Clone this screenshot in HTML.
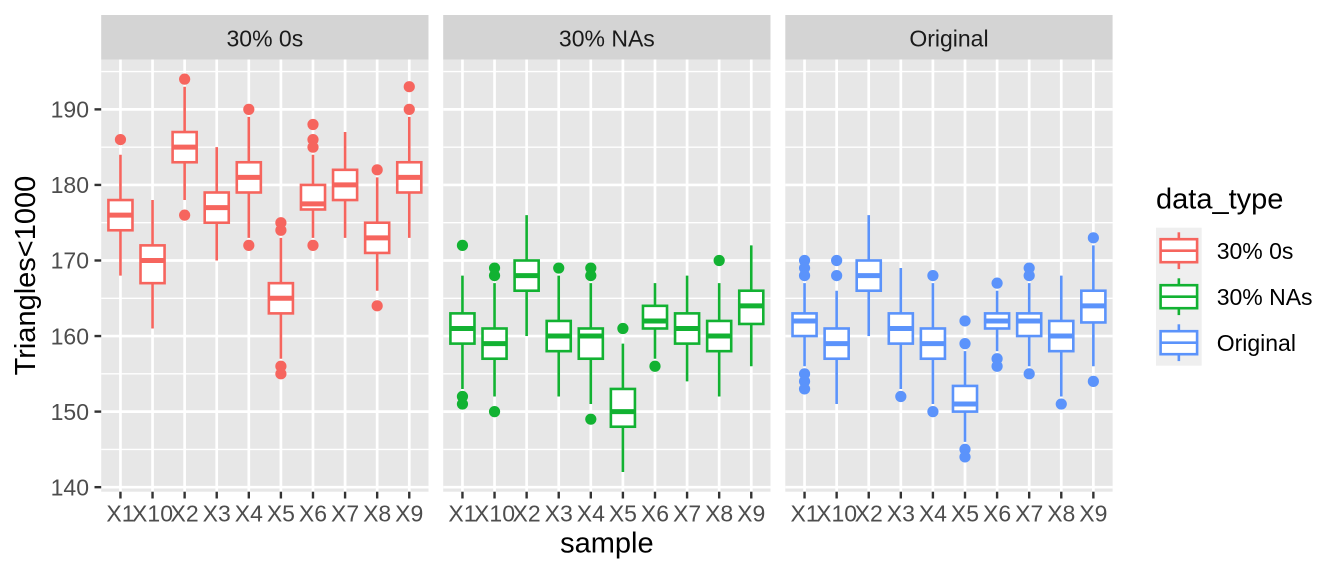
<!DOCTYPE html>
<html><head><meta charset="utf-8"><style>
html,body{margin:0;padding:0;background:#fff;}
svg{display:block;font-family:"Liberation Sans",Arial,sans-serif;}
</style></head><body>
<svg width="1344" height="576" viewBox="0 0 1344 576" xmlns="http://www.w3.org/2000/svg">
<rect width="1344" height="576" fill="#fff"/>
<defs>
<g id="grid">
<rect x="0" y="59.5" width="327.3" height="432.2" fill="#E7E7E7"/>
<g stroke="#fff" stroke-width="1.4">
<line x1="0" x2="327.3" y1="449.39" y2="449.39"/><line x1="0" x2="327.3" y1="373.83" y2="373.83"/>
<line x1="0" x2="327.3" y1="298.27" y2="298.27"/><line x1="0" x2="327.3" y1="222.71" y2="222.71"/>
<line x1="0" x2="327.3" y1="147.15" y2="147.15"/><line x1="0" x2="327.3" y1="71.59" y2="71.59"/>
</g>
<g stroke="#fff" stroke-width="2.7">
<line x1="0" x2="327.3" y1="487.17" y2="487.17"/><line x1="0" x2="327.3" y1="411.61" y2="411.61"/>
<line x1="0" x2="327.3" y1="336.05" y2="336.05"/><line x1="0" x2="327.3" y1="260.49" y2="260.49"/>
<line x1="0" x2="327.3" y1="184.93" y2="184.93"/><line x1="0" x2="327.3" y1="109.37" y2="109.37"/>
<line x1="19.25" x2="19.25" y1="59.5" y2="491.7"/><line x1="51.34" x2="51.34" y1="59.5" y2="491.7"/>
<line x1="83.43" x2="83.43" y1="59.5" y2="491.7"/><line x1="115.52" x2="115.52" y1="59.5" y2="491.7"/>
<line x1="147.61" x2="147.61" y1="59.5" y2="491.7"/><line x1="179.7" x2="179.7" y1="59.5" y2="491.7"/>
<line x1="211.79" x2="211.79" y1="59.5" y2="491.7"/><line x1="243.88" x2="243.88" y1="59.5" y2="491.7"/>
<line x1="275.97" x2="275.97" y1="59.5" y2="491.7"/><line x1="308.06" x2="308.06" y1="59.5" y2="491.7"/>
</g>
<g stroke="#333" stroke-width="2.4">
<line x1="19.25" x2="19.25" y1="491.7" y2="498.5"/><line x1="51.34" x2="51.34" y1="491.7" y2="498.5"/>
<line x1="83.43" x2="83.43" y1="491.7" y2="498.5"/><line x1="115.52" x2="115.52" y1="491.7" y2="498.5"/>
<line x1="147.61" x2="147.61" y1="491.7" y2="498.5"/><line x1="179.7" x2="179.7" y1="491.7" y2="498.5"/>
<line x1="211.79" x2="211.79" y1="491.7" y2="498.5"/><line x1="243.88" x2="243.88" y1="491.7" y2="498.5"/>
<line x1="275.97" x2="275.97" y1="491.7" y2="498.5"/><line x1="308.06" x2="308.06" y1="491.7" y2="498.5"/>
</g>
<rect x="0" y="15" width="327.3" height="44.5" fill="#D4D4D4"/>
<g font-size="23" fill="#4D4D4D" text-anchor="middle">
<text x="19.25" y="521.7">X1</text><text x="51.34" y="521.7">X10</text><text x="83.43" y="521.7">X2</text>
<text x="115.52" y="521.7">X3</text><text x="147.61" y="521.7">X4</text><text x="179.7" y="521.7">X5</text>
<text x="211.79" y="521.7">X6</text><text x="243.88" y="521.7">X7</text><text x="275.97" y="521.7">X8</text>
<text x="308.06" y="521.7">X9</text>
</g>
</g>
</defs>

<use href="#grid" x="101.2" y="0"/>
<use href="#grid" x="443.2" y="0"/>
<use href="#grid" x="785.3" y="0"/>

<g font-size="23" fill="#1A1A1A" text-anchor="middle">
<text x="264.85" y="46.5">30% 0s</text>
<text x="606.85" y="46.5">30% NAs</text>
<text x="948.95" y="46.5">Original</text>
</g>

<!-- y axis -->
<g stroke="#333" stroke-width="2.4">
<line x1="94.5" x2="101.2" y1="487.17" y2="487.17"/><line x1="94.5" x2="101.2" y1="411.61" y2="411.61"/>
<line x1="94.5" x2="101.2" y1="336.05" y2="336.05"/><line x1="94.5" x2="101.2" y1="260.49" y2="260.49"/>
<line x1="94.5" x2="101.2" y1="184.93" y2="184.93"/><line x1="94.5" x2="101.2" y1="109.37" y2="109.37"/>
</g>
<g font-size="23" fill="#4D4D4D" text-anchor="end">
<text x="89" y="495.4">140</text><text x="89" y="419.8">150</text><text x="89" y="344.3">160</text>
<text x="89" y="268.7">170</text><text x="89" y="193.1">180</text><text x="89" y="117.6">190</text>
</g>
<text x="606.9" y="552.7" font-size="29" fill="#000" text-anchor="middle">sample</text>
<text transform="translate(35,275.6) rotate(-90)" font-size="29" fill="#000" text-anchor="middle">Triangles&lt;1000</text>

<!-- Panel 1 red -->
<g stroke="#F6655E" stroke-width="2.6" fill="#fff">
<line x1="120.45" x2="120.45" y1="275.60" y2="154.71"/><rect x="108.42" y="200.04" width="24.06" height="30.23"/><line x1="108.42" x2="132.48" y1="215.15" y2="215.15" stroke-width="5"/>
<line x1="152.54" x2="152.54" y1="328.49" y2="200.04"/><rect x="140.51" y="245.38" width="24.06" height="37.78"/><line x1="140.51" x2="164.57" y1="260.49" y2="260.49" stroke-width="5"/>
<line x1="184.63" x2="184.63" y1="200.04" y2="86.70"/><rect x="172.6" y="132.04" width="24.06" height="30.22"/><line x1="172.6" x2="196.66" y1="147.15" y2="147.15" stroke-width="5"/>
<line x1="216.72" x2="216.72" y1="260.49" y2="147.15"/><rect x="204.69" y="192.49" width="24.06" height="30.22"/><line x1="204.69" x2="228.75" y1="207.60" y2="207.60" stroke-width="5"/>
<line x1="248.81" x2="248.81" y1="237.82" y2="116.93"/><rect x="236.78" y="162.26" width="24.06" height="30.23"/><line x1="236.78" x2="260.84" y1="177.37" y2="177.37" stroke-width="5"/>
<line x1="280.9" x2="280.9" y1="358.72" y2="237.82"/><rect x="268.87" y="283.16" width="24.06" height="30.22"/><line x1="268.87" x2="292.93" y1="298.27" y2="298.27" stroke-width="5"/>
<line x1="312.99" x2="312.99" y1="237.82" y2="154.71"/><rect x="300.96" y="184.93" width="24.06" height="24.55"/><line x1="300.96" x2="325.02" y1="203.82" y2="203.82" stroke-width="5"/>
<line x1="345.08" x2="345.08" y1="237.82" y2="132.04"/><rect x="333.05" y="169.82" width="24.06" height="30.22"/><line x1="333.05" x2="357.11" y1="184.93" y2="184.93" stroke-width="5"/>
<line x1="377.17" x2="377.17" y1="290.71" y2="177.37"/><rect x="365.14" y="222.71" width="24.06" height="30.22"/><line x1="365.14" x2="389.2" y1="237.82" y2="237.82" stroke-width="5"/>
<line x1="409.26" x2="409.26" y1="237.82" y2="116.93"/><rect x="397.23" y="162.26" width="24.06" height="30.23"/><line x1="397.23" x2="421.29" y1="177.37" y2="177.37" stroke-width="5"/>
</g>
<g fill="#F6655E">
<circle cx="120.45" cy="139.59" r="5.6"/>
<circle cx="184.63" cy="79.15" r="5.6"/><circle cx="184.63" cy="215.15" r="5.6"/>
<circle cx="248.81" cy="109.37" r="5.6"/><circle cx="248.81" cy="245.38" r="5.6"/>
<circle cx="280.9" cy="222.71" r="5.6"/><circle cx="280.9" cy="230.27" r="5.6"/><circle cx="280.9" cy="366.27" r="5.6"/><circle cx="280.9" cy="373.83" r="5.6"/>
<circle cx="312.99" cy="124.48" r="5.6"/><circle cx="312.99" cy="139.59" r="5.6"/><circle cx="312.99" cy="147.15" r="5.6"/><circle cx="312.99" cy="245.38" r="5.6"/>
<circle cx="377.17" cy="169.82" r="5.6"/><circle cx="377.17" cy="305.83" r="5.6"/>
<circle cx="409.26" cy="86.70" r="5.6"/><circle cx="409.26" cy="109.37" r="5.6"/>
</g>

<!-- Panel 2 green -->
<g stroke="#12B232" stroke-width="2.6" fill="#fff">
<line x1="462.45" x2="462.45" y1="388.94" y2="275.60"/><rect x="450.42" y="313.38" width="24.06" height="30.23"/><line x1="450.42" x2="474.48" y1="328.49" y2="328.49" stroke-width="5"/>
<line x1="494.54" x2="494.54" y1="396.50" y2="283.16"/><rect x="482.51" y="328.49" width="24.06" height="30.23"/><line x1="482.51" x2="506.57" y1="343.61" y2="343.61" stroke-width="5"/>
<line x1="526.63" x2="526.63" y1="336.05" y2="215.15"/><rect x="514.6" y="260.49" width="24.06" height="30.22"/><line x1="514.6" x2="538.66" y1="275.60" y2="275.60" stroke-width="5"/>
<line x1="558.72" x2="558.72" y1="396.50" y2="275.60"/><rect x="546.69" y="320.94" width="24.06" height="30.22"/><line x1="546.69" x2="570.75" y1="336.05" y2="336.05" stroke-width="5"/>
<line x1="590.81" x2="590.81" y1="404.05" y2="283.16"/><rect x="578.78" y="328.49" width="24.06" height="30.23"/><line x1="578.78" x2="602.84" y1="336.05" y2="336.05" stroke-width="5"/>
<line x1="622.9" x2="622.9" y1="472.06" y2="343.61"/><rect x="610.87" y="388.94" width="24.06" height="37.78"/><line x1="610.87" x2="634.93" y1="411.61" y2="411.61" stroke-width="5"/>
<line x1="654.99" x2="654.99" y1="358.72" y2="283.16"/><rect x="642.96" y="305.83" width="24.06" height="22.66"/><line x1="642.96" x2="667.02" y1="320.94" y2="320.94" stroke-width="5"/>
<line x1="687.08" x2="687.08" y1="381.39" y2="275.60"/><rect x="675.05" y="313.38" width="24.06" height="30.23"/><line x1="675.05" x2="699.11" y1="328.49" y2="328.49" stroke-width="5"/>
<line x1="719.17" x2="719.17" y1="396.50" y2="283.16"/><rect x="707.14" y="320.94" width="24.06" height="30.22"/><line x1="707.14" x2="731.2" y1="336.05" y2="336.05" stroke-width="5"/>
<line x1="751.26" x2="751.26" y1="366.27" y2="245.38"/><rect x="739.23" y="290.71" width="24.06" height="33.25"/><line x1="739.23" x2="763.29" y1="305.83" y2="305.83" stroke-width="5"/>
</g>
<g fill="#12B232">
<circle cx="462.45" cy="245.38" r="5.6"/><circle cx="462.45" cy="396.50" r="5.6"/><circle cx="462.45" cy="404.05" r="5.6"/>
<circle cx="494.54" cy="268.05" r="5.6"/><circle cx="494.54" cy="275.60" r="5.6"/><circle cx="494.54" cy="411.61" r="5.6"/>
<circle cx="558.72" cy="268.05" r="5.6"/>
<circle cx="590.81" cy="268.05" r="5.6"/><circle cx="590.81" cy="275.60" r="5.6"/><circle cx="590.81" cy="419.17" r="5.6"/>
<circle cx="622.9" cy="328.49" r="5.6"/>
<circle cx="654.99" cy="366.27" r="5.6"/>
<circle cx="719.17" cy="260.49" r="5.6"/>
</g>

<!-- Panel 3 blue -->
<g stroke="#5B93FB" stroke-width="2.6" fill="#fff">
<line x1="804.55" x2="804.55" y1="366.27" y2="283.16"/><rect x="792.52" y="313.38" width="24.06" height="22.67"/><line x1="792.52" x2="816.58" y1="320.94" y2="320.94" stroke-width="5"/>
<line x1="836.64" x2="836.64" y1="404.05" y2="290.71"/><rect x="824.61" y="328.49" width="24.06" height="30.23"/><line x1="824.61" x2="848.67" y1="343.61" y2="343.61" stroke-width="5"/>
<line x1="868.73" x2="868.73" y1="336.05" y2="215.15"/><rect x="856.7" y="260.49" width="24.06" height="30.22"/><line x1="856.7" x2="880.76" y1="275.60" y2="275.60" stroke-width="5"/>
<line x1="900.82" x2="900.82" y1="388.94" y2="268.05"/><rect x="888.79" y="313.38" width="24.06" height="30.23"/><line x1="888.79" x2="912.85" y1="328.49" y2="328.49" stroke-width="5"/>
<line x1="932.91" x2="932.91" y1="404.05" y2="283.16"/><rect x="920.88" y="328.49" width="24.06" height="30.23"/><line x1="920.88" x2="944.94" y1="343.61" y2="343.61" stroke-width="5"/>
<line x1="965" x2="965" y1="441.83" y2="351.16"/><rect x="952.97" y="385.92" width="24.06" height="25.69"/><line x1="952.97" x2="977.03" y1="404.05" y2="404.05" stroke-width="5"/>
<line x1="997.09" x2="997.09" y1="351.16" y2="290.71"/><rect x="985.06" y="313.38" width="24.06" height="15.11"/><line x1="985.06" x2="1009.12" y1="320.94" y2="320.94" stroke-width="5"/>
<line x1="1029.18" x2="1029.18" y1="366.27" y2="283.16"/><rect x="1017.15" y="313.38" width="24.06" height="22.67"/><line x1="1017.15" x2="1041.21" y1="320.94" y2="320.94" stroke-width="5"/>
<line x1="1061.27" x2="1061.27" y1="396.50" y2="275.60"/><rect x="1049.24" y="320.94" width="24.06" height="30.22"/><line x1="1049.24" x2="1073.3" y1="336.05" y2="336.05" stroke-width="5"/>
<line x1="1093.36" x2="1093.36" y1="366.27" y2="245.38"/><rect x="1081.33" y="290.71" width="24.06" height="31.74"/><line x1="1081.33" x2="1105.39" y1="305.83" y2="305.83" stroke-width="5"/>
</g>
<g fill="#5B93FB">
<circle cx="804.55" cy="260.49" r="5.6"/><circle cx="804.55" cy="268.05" r="5.6"/><circle cx="804.55" cy="275.60" r="5.6"/>
<circle cx="804.55" cy="373.83" r="5.6"/><circle cx="804.55" cy="381.39" r="5.6"/><circle cx="804.55" cy="388.94" r="5.6"/>
<circle cx="836.64" cy="260.49" r="5.6"/><circle cx="836.64" cy="275.60" r="5.6"/>
<circle cx="900.82" cy="396.50" r="5.6"/>
<circle cx="932.91" cy="275.60" r="5.6"/><circle cx="932.91" cy="411.61" r="5.6"/>
<circle cx="965" cy="320.94" r="5.6"/><circle cx="965" cy="343.61" r="5.6"/><circle cx="965" cy="449.39" r="5.6"/><circle cx="965" cy="456.95" r="5.6"/>
<circle cx="997.09" cy="283.16" r="5.6"/><circle cx="997.09" cy="358.72" r="5.6"/><circle cx="997.09" cy="366.27" r="5.6"/>
<circle cx="1029.18" cy="268.05" r="5.6"/><circle cx="1029.18" cy="275.60" r="5.6"/><circle cx="1029.18" cy="373.83" r="5.6"/>
<circle cx="1061.27" cy="404.05" r="5.6"/>
<circle cx="1093.36" cy="237.82" r="5.6"/><circle cx="1093.36" cy="381.39" r="5.6"/>
</g>

<!-- Legend -->
<text x="1156" y="208.3" font-size="29" fill="#000">data_type</text>
<rect x="1156" y="227.7" width="45.7" height="138" fill="#EFEFEF"/>
<g stroke-width="2.6" fill="#fff">
<g stroke="#F6655E">
<line x1="1178.85" x2="1178.85" y1="232.3" y2="269.1"/><rect x="1160.6" y="239.2" width="36.5" height="23"/><line x1="1160.6" x2="1197.1" y1="250.7" y2="250.7"/>
</g>
<g stroke="#12B232">
<line x1="1178.85" x2="1178.85" y1="278.3" y2="315.1"/><rect x="1160.6" y="285.2" width="36.5" height="23"/><line x1="1160.6" x2="1197.1" y1="296.7" y2="296.7"/>
</g>
<g stroke="#5B93FB">
<line x1="1178.85" x2="1178.85" y1="324.3" y2="361.1"/><rect x="1160.6" y="331.2" width="36.5" height="23"/><line x1="1160.6" x2="1197.1" y1="342.7" y2="342.7"/>
</g>
</g>
<g font-size="23" fill="#000">
<text x="1216.7" y="259">30% 0s</text>
<text x="1216.7" y="305">30% NAs</text>
<text x="1216.7" y="351">Original</text>
</g>
</svg>
</body></html>
